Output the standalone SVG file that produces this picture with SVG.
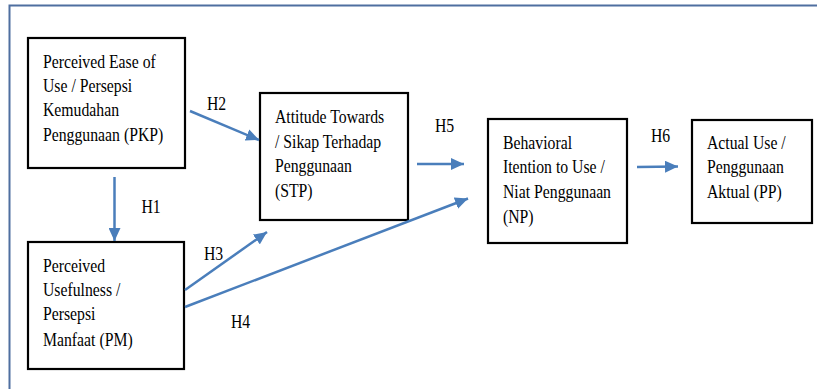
<svg xmlns="http://www.w3.org/2000/svg" width="817" height="389" viewBox="0 0 817 389">
<defs>
<style>
.frame{fill:none;stroke:#4f6fa0;stroke-width:2}
.box{fill:#fff;stroke:#000;stroke-width:2.2}
.ar{fill:none;stroke:#4a7ebb;stroke-width:2.5;marker-end:url(#ah)}
</style>
<marker id="ah" markerUnits="userSpaceOnUse" markerWidth="14" markerHeight="12" refX="13" refY="6" orient="auto">
<path d="M0,0 L13,6 L0,12 Z" fill="#4a7ebb"/>
</marker>
</defs>
<rect width="817" height="389" fill="#fff"/>
<rect class="frame" x="9.5" y="5.5" width="830" height="400"/>

<g font-family="'Liberation Serif', 'Times New Roman', Tinos, 'DejaVu Serif', serif" font-size="18" fill="#000">
<g id="PKP">
<rect class="box" x="28" y="38" width="157" height="130"/>
<text transform="matrix(0.875 0 0 1 43 0)"><tspan x="0" y="68">Perceived Ease of</tspan><tspan x="0" y="92">Use / Persepsi</tspan><tspan x="0" y="116">Kemudahan</tspan><tspan x="0" y="141">Penggunaan (PKP)</tspan></text>
</g>

<g id="STP">
<rect class="box" x="260" y="93" width="148" height="127"/>
<text transform="matrix(0.875 0 0 1 275 0)"><tspan x="0" y="123">Attitude Towards</tspan><tspan x="0" y="148">/ Sikap Terhadap</tspan><tspan x="0" y="172">Penggunaan</tspan><tspan x="0" y="197">(STP)</tspan></text>
</g>

<g id="NP">
<rect class="box" x="488" y="119" width="139" height="124"/>
<text transform="matrix(0.875 0 0 1 503 0)"><tspan x="0" y="149">Behavioral</tspan><tspan x="0" y="173">Itention to Use /</tspan><tspan x="0" y="198">Niat Penggunaan</tspan><tspan x="0" y="223">(NP)</tspan></text>
</g>

<g id="PP">
<rect class="box" x="692" y="120" width="120" height="103"/>
<text transform="matrix(0.875 0 0 1 707 0)"><tspan x="0" y="149">Actual Use /</tspan><tspan x="0" y="173">Penggunaan</tspan><tspan x="0" y="198">Aktual (PP)</tspan></text>
</g>

<g id="PM">
<rect class="box" x="28" y="242" width="156" height="127"/>
<text transform="matrix(0.875 0 0 1 43 0)"><tspan x="0" y="272">Perceived</tspan><tspan x="0" y="296">Usefulness /</tspan><tspan x="0" y="320">Persepsi</tspan><tspan x="0" y="346">Manfaat (PM)</tspan></text>
</g>

<g id="connectors">
<line class="ar" x1="114.5" y1="177" x2="114.5" y2="241"/>
<line class="ar" x1="190" y1="111" x2="259" y2="140"/>
<line class="ar" x1="185" y1="290" x2="267" y2="232"/>
<line class="ar" x1="185" y1="307" x2="468" y2="198.5"/>
<line class="ar" x1="417" y1="164" x2="464" y2="164"/>
<line class="ar" x1="637" y1="167" x2="678" y2="166.5"/>
<text transform="matrix(0.875 0 0 1 141.5 0)" x="0" y="213">H1</text>
<text transform="matrix(0.875 0 0 1 207 0)" x="0" y="110">H2</text>
<text transform="matrix(0.875 0 0 1 204 0)" x="0" y="260">H3</text>
<text transform="matrix(0.875 0 0 1 231 0)" x="0" y="328">H4</text>
<text transform="matrix(0.875 0 0 1 435 0)" x="0" y="132">H5</text>
<text transform="matrix(0.875 0 0 1 651 0)" x="0" y="142">H6</text>
</g>
</g>
</svg>
